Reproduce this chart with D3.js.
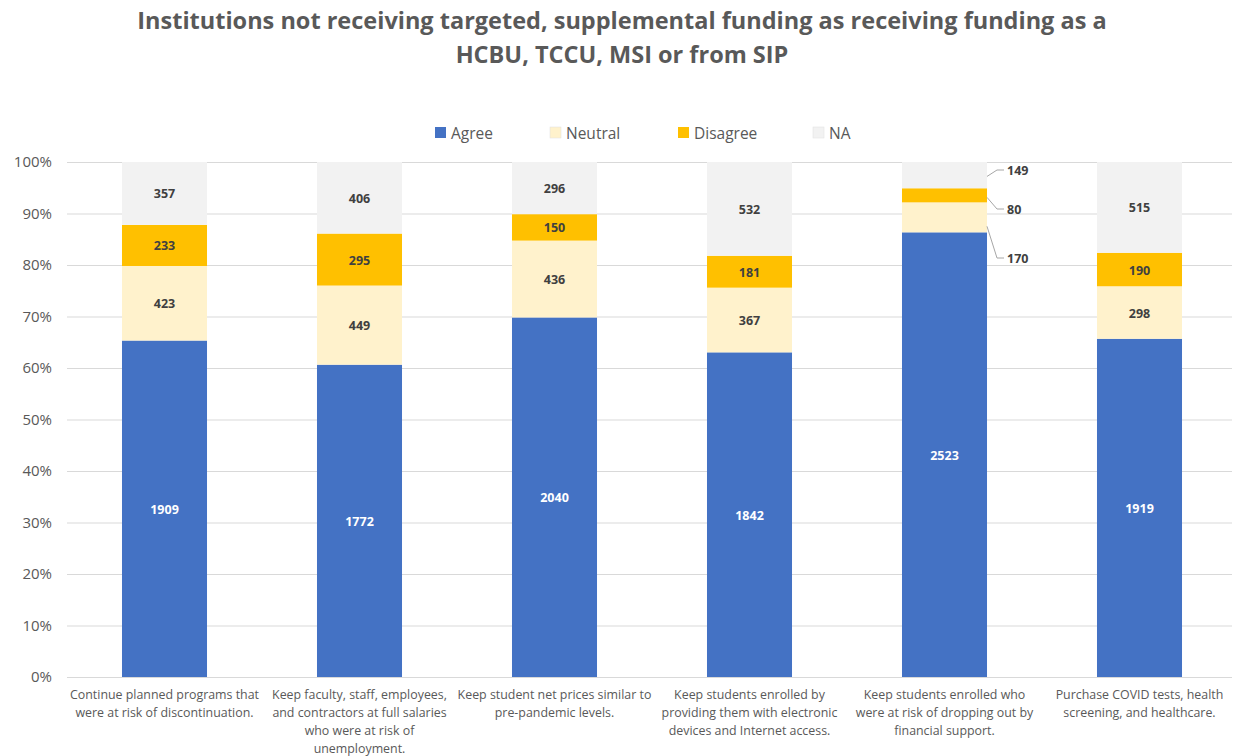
<!DOCTYPE html>
<html><head><meta charset="utf-8">
<script src="https://cdn.jsdelivr.net/npm/d3@7"></script>
<style>body{margin:0;background:#fff;} text{font-family:"Open Sans",sans-serif;}</style>
</head><body>
<svg id="c" width="1236" height="756"></svg>
<script>
const categories = [
  ["Continue planned programs that","were at risk of discontinuation."],
  ["Keep faculty, staff, employees,","and contractors at full salaries","who were at risk of","unemployment."],
  ["Keep student net prices similar to","pre-pandemic levels."],
  ["Keep students enrolled by","providing them with electronic","devices and Internet access."],
  ["Keep students enrolled who","were at risk of dropping out by","financial support."],
  ["Purchase COVID tests, health","screening, and healthcare."]
];
const seriesNames = ["Agree","Neutral","Disagree","NA"];
const agree = [1909,1772,2040,1842,2523,1919];
const neutral = [423,449,436,367,170,298];
const disagree = [233,295,150,181,80,190];
const na = [357,406,296,532,149,515];
const yTicks = [0,0.1,0.2,0.3,0.4,0.5,0.6,0.7,0.8,0.9,1];
const titleLines = ["Institutions not receiving targeted, supplemental funding as receiving funding as a","HCBU, TCCU, MSI or from SIP"];
const colors = ["#4472C4","#FFF2CC","#FFC000","#F2F2F2"];

const svg = d3.select("#c");
const pL = 67, pR = 1237, pT = 162, pB = 677;
const x = d3.scaleBand().domain(d3.range(categories.length)).range([pL,pR]).padding(0);
const y = d3.scaleLinear().domain([0,1]).range([pB,pT]);
const barW = x.bandwidth()*0.436;

// title
svg.append("g").selectAll("text").data(titleLines).join("text")
  .attr("x",622).attr("y",(d,i)=>29+i*34).attr("text-anchor","middle")
  .attr("font-size",23.5).attr("font-weight","bold").attr("fill","#595959").text(d=>d);

// gridlines
svg.append("g").selectAll("line").data(yTicks).join("line")
  .attr("x1",pL).attr("x2",pR-5).attr("y1",d=>y(d)+0.5).attr("y2",d=>y(d)+0.5)
  .attr("stroke","#D9D9D9").attr("stroke-width",1);

// y axis labels
const yAxis = d3.axisLeft(y).tickValues(yTicks).tickFormat(d3.format(".0%")).tickSize(0).tickPadding(0);
const ga = svg.append("g").attr("transform",`translate(52,0)`).call(yAxis);
ga.select(".domain").remove();
ga.selectAll("text").attr("font-size",15).attr("fill","#595959").attr("font-family","Open Sans");

// stack
const rows = categories.map((c,i)=>({i,Agree:agree[i],Neutral:neutral[i],Disagree:disagree[i],NA:na[i]}));
const stack = d3.stack().keys(seriesNames).offset(d3.stackOffsetExpand);
const series = stack(rows);

const g = svg.append("g");
series.forEach((s,si)=>{
  g.append("g").selectAll("rect").data(s).join("rect")
    .attr("x",d=>x(d.data.i)+(x.bandwidth()-barW)/2)
    .attr("width",barW)
    .attr("y",d=>y(d[1]))
    .attr("height",d=>y(d[0])-y(d[1]))
    .attr("fill",colors[si]);
});

// labels
const outside = 4;
series.forEach((s,si)=>{
  s.forEach(d=>{
    const val = d.data[seriesNames[si]];
    const cx = x(d.data.i)+x.bandwidth()/2;
    if (d.data.i===outside && si>0) return;
    g.append("text").attr("x",cx).attr("y",(y(d[0])+y(d[1]))/2+5)
      .attr("text-anchor","middle").attr("font-size",12.5).attr("font-weight","bold")
      .attr("fill",si===0?"#FFFFFF":"#404040").text(val);
  });
});

// outside labels for bar 5 with leader lines
const bx = x(outside)+(x.bandwidth()+barW)/2;
const outs = [
  {si:3, anchorY: s=>y(s[1])+ (y(s[0])-y(s[1]))*0.55, ly:170},
  {si:2, anchorY: s=>y(s[0])-5, ly:209},
  {si:1, anchorY: s=>y(s[0])-(y(s[0])-y(s[1]))*0.2, ly:258}
];
outs.forEach(o=>{
  const s = series[o.si][outside];
  const ay = o.anchorY(s);
  g.append("path").attr("d",`M${bx},${ay}L${bx+10},${o.ly}L${bx+17},${o.ly}`)
    .attr("fill","none").attr("stroke","#A6A6A6").attr("stroke-width",1);
  g.append("text").attr("x",bx+20).attr("y",o.ly+4.5).attr("font-size",12.5)
    .attr("font-weight","bold").attr("fill","#404040").text(s.data[seriesNames[o.si]]);
});

// x labels
categories.forEach((lines,i)=>{
  const cx = x(i)+x.bandwidth()/2;
  svg.append("g").selectAll("text").data(lines).join("text")
    .attr("x",cx).attr("y",(d,j)=>699+j*18).attr("text-anchor","middle")
    .attr("font-size",12.4).attr("fill","#595959").text(d=>d);
});

// legend
const legX = [435,550,678,813];
const lg = svg.append("g");
seriesNames.forEach((n,i)=>{
  lg.append("rect").attr("x",legX[i]).attr("y",127).attr("width",11).attr("height",11)
    .attr("fill",colors[i]).attr("stroke", i===1||i===3 ? "#E0E0E0":"none").attr("stroke-width",0.5);
  lg.append("text").attr("x",legX[i]+16).attr("y",138.5).attr("font-size",15.5)
    .attr("fill","#595959").text(n);
});
</script>
</body></html>
